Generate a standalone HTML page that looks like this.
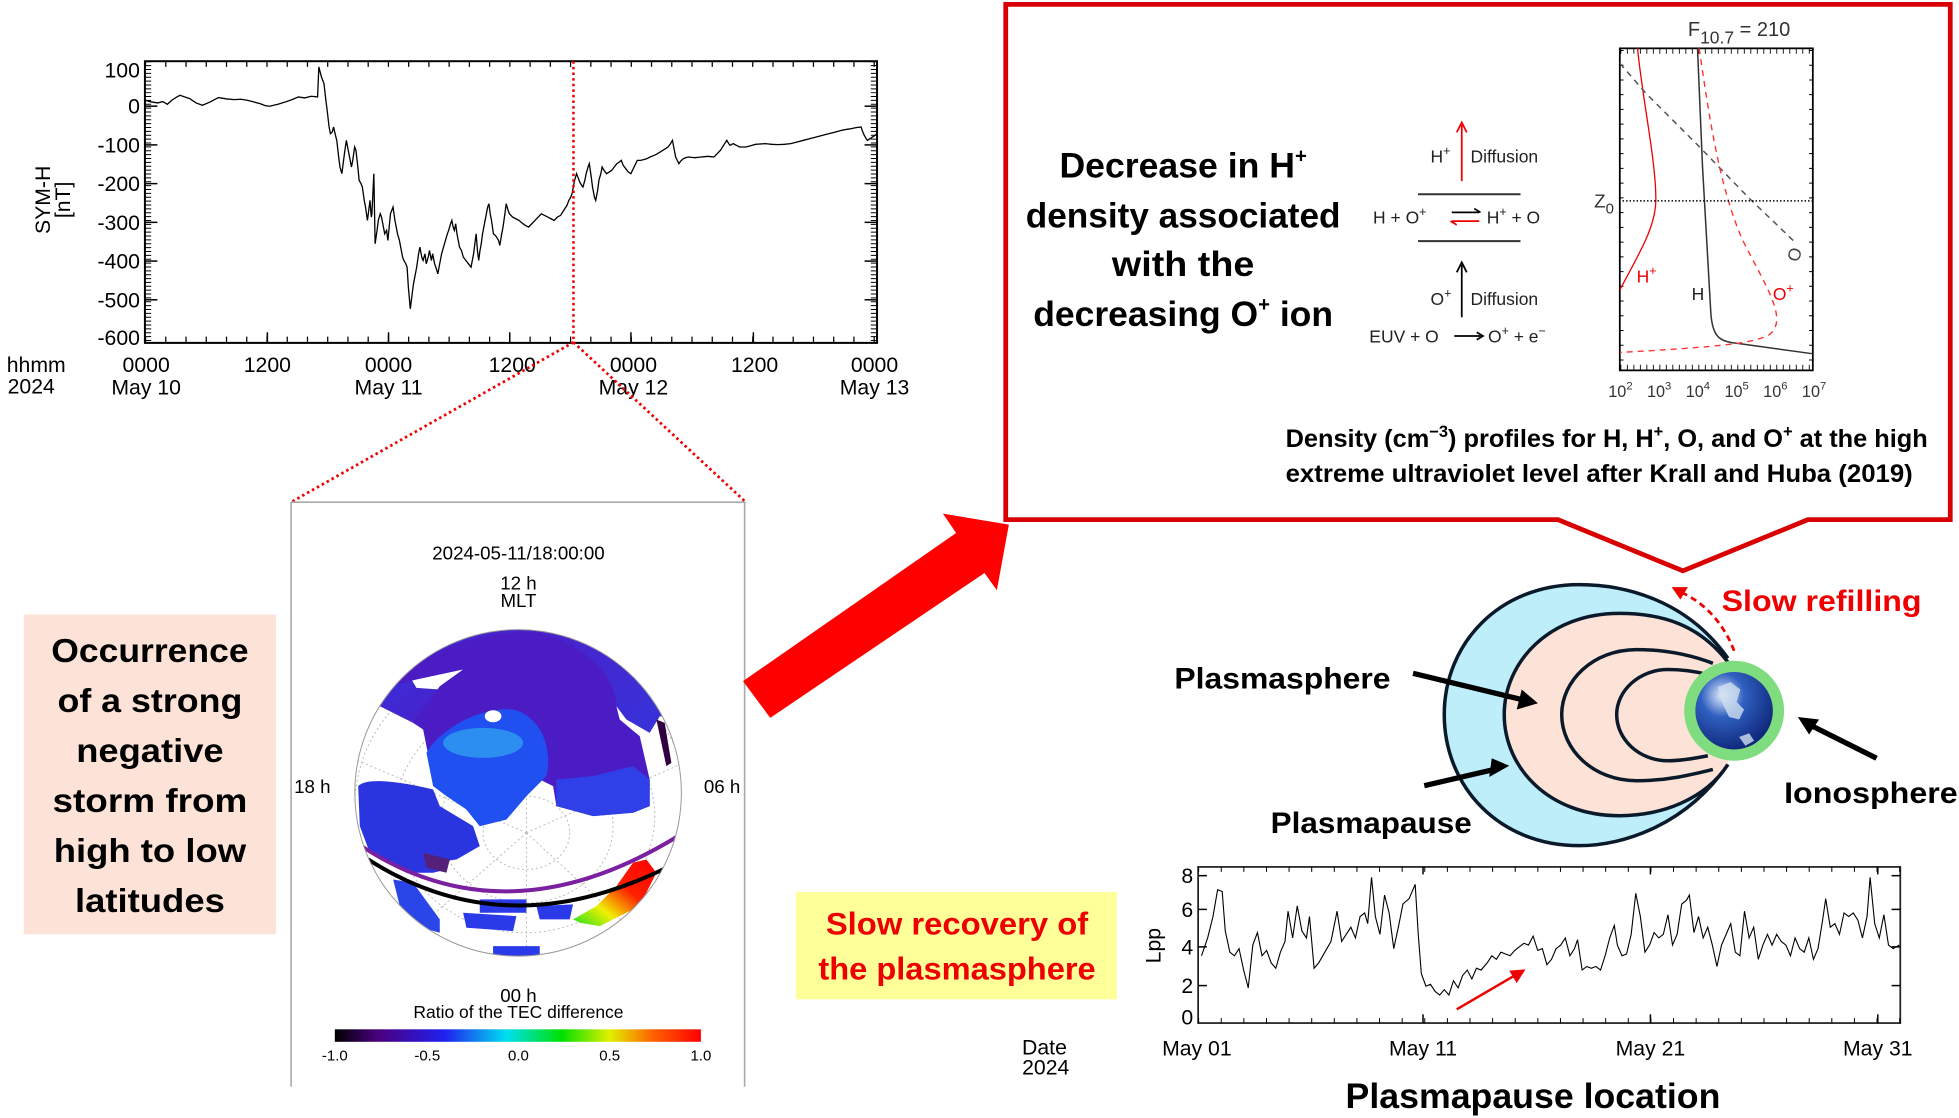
<!DOCTYPE html>
<html><head><meta charset="utf-8"><style>html,body{margin:0;padding:0;background:#fff}svg{display:block}</style></head>
<body>
<svg width="1959" height="1118" viewBox="0 0 1568 895" preserveAspectRatio="none" xmlns="http://www.w3.org/2000/svg" font-family="Liberation Sans, sans-serif">
<defs>
<clipPath id="glob"><ellipse cx="535" cy="520" rx="490" ry="490"/></clipPath>
<linearGradient id="cb" x1="0" x2="1"><stop offset="0" stop-color="#000"/><stop offset="0.12" stop-color="#4a0080"/><stop offset="0.3" stop-color="#2020f0"/><stop offset="0.47" stop-color="#00e0f0"/><stop offset="0.62" stop-color="#00e000"/><stop offset="0.75" stop-color="#e0f000"/><stop offset="0.87" stop-color="#ff6000"/><stop offset="1" stop-color="#ff0000"/></linearGradient>
<radialGradient id="earth" cx="0.35" cy="0.3" r="0.8"><stop offset="0" stop-color="#e8f0ff"/><stop offset="0.35" stop-color="#3060c0"/><stop offset="1" stop-color="#0a1e70"/></radialGradient>
<linearGradient id="hot" x1="0" y1="1" x2="1" y2="0"><stop offset="0" stop-color="#20e020"/><stop offset="0.3" stop-color="#f0f000"/><stop offset="0.6" stop-color="#ff2000"/><stop offset="1" stop-color="#ff0000"/></linearGradient>
<linearGradient id="capg" x1="0" y1="0" x2="1" y2="0.3"><stop offset="0" stop-color="#2a3ae8"/><stop offset="0.5" stop-color="#4a20c8"/><stop offset="1" stop-color="#3a30d8"/></linearGradient>
</defs>

<!-- ===== SYM-H plot ===== -->
<rect x="116" y="49" width="586" height="225.5" fill="none" stroke="#000" stroke-width="1.6"/>
<g stroke="#000" stroke-width="1">
<line x1="116" y1="272" x2="702" y2="272" stroke-width="5" stroke-dasharray="1 15.2"/>
<line x1="116" y1="51" x2="702" y2="51" stroke-width="5" stroke-dasharray="1 15.2"/>
<line x1="118.5" y1="49" x2="118.5" y2="274" stroke-width="5" stroke-dasharray="0.8 2.3"/>
<line x1="699.5" y1="49" x2="699.5" y2="274" stroke-width="5" stroke-dasharray="0.8 2.3"/>
</g>
<g stroke="#000" stroke-width="1.2">
<line x1="214" y1="274" x2="214" y2="266"/><line x1="311" y1="274" x2="311" y2="266"/><line x1="408" y1="274" x2="408" y2="266"/><line x1="505" y1="274" x2="505" y2="266"/><line x1="603" y1="274" x2="603" y2="266"/>
<line x1="116" y1="85" x2="126" y2="85"/><line x1="116" y1="116" x2="126" y2="116"/><line x1="116" y1="147" x2="126" y2="147"/><line x1="116" y1="178" x2="126" y2="178"/><line x1="116" y1="209" x2="126" y2="209"/><line x1="116" y1="240" x2="126" y2="240"/>
<line x1="692" y1="85" x2="702" y2="85"/><line x1="692" y1="116" x2="702" y2="116"/><line x1="692" y1="147" x2="702" y2="147"/><line x1="692" y1="178" x2="702" y2="178"/><line x1="692" y1="209" x2="702" y2="209"/><line x1="692" y1="240" x2="702" y2="240"/>
</g>
<polyline transform="translate(116,49) scale(0.5118,0.2672) translate(-230,-183)" vector-effect="non-scaling-stroke" fill="none" stroke="#000" stroke-width="1.3" points="230,300 240,305 250,308 258,304 265,312 272,300 280,290 285,285 292,290 300,295 310,308 320,315 332,305 345,292 358,296 370,298 380,297 390,300 400,305 410,310 418,316 425,318 438,312 450,305 460,298 470,290 480,293 490,288 500,290 502,200 506,230 510,250 513,300 515,330 518,380 520,400 523,395 525,380 528,405 530,420 533,470 535,500 538,520 540,490 542,460 545,420 548,450 550,470 553,500 555,480 558,440 560,450 563,500 565,540 568,550 570,560 573,600 575,620 578,660 580,630 582,600 584,650 585,640 588,520 590,730 593,690 595,660 598,640 600,650 603,680 605,700 608,690 610,720 612,680 614,640 618,620 621,660 625,700 628,720 630,740 633,770 635,780 638,790 640,800 642,860 645,925 648,880 650,850 653,820 655,800 658,760 660,740 663,770 665,780 668,760 670,790 673,770 675,750 678,780 680,760 683,790 685,800 688,820 691,790 694,760 697,740 700,720 703,700 705,690 708,670 710,660 712,680 714,690 716,670 718,700 720,720 722,740 725,750 728,770 732,780 736,790 740,800 742,780 744,760 746,730 748,700 750,750 752,780 754,750 756,730 758,700 760,680 762,660 764,640 766,620 768,610 770,640 772,660 775,700 778,705 780,710 783,720 785,735 788,700 790,680 793,640 795,610 798,630 800,640 805,650 810,655 815,660 820,668 825,675 830,680 835,670 840,660 845,650 850,640 855,645 860,650 865,655 870,660 875,650 880,645 885,630 890,615 893,600 896,590 898,580 900,560 902,540 905,520 908,535 910,545 913,555 915,560 918,540 920,520 923,500 925,490 928,530 930,560 933,590 935,600 938,570 940,540 943,520 945,500 948,510 952,520 956,515 960,510 964,500 968,490 972,485 975,480 978,495 982,505 986,515 990,520 995,500 1000,480 1005,480 1010,478 1015,475 1020,470 1025,466 1030,462 1035,456 1040,450 1044,445 1048,440 1052,430 1055,420 1058,450 1060,470 1063,482 1065,490 1068,482 1072,475 1076,472 1080,470 1085,471 1090,472 1095,471 1100,470 1105,469 1110,468 1115,469 1120,470 1125,460 1130,450 1135,435 1140,420 1143,430 1145,435 1148,432 1150,430 1155,435 1160,440 1165,440 1170,440 1178,436 1185,432 1192,431 1200,430 1210,432 1220,433 1230,432 1240,430 1250,425 1260,420 1270,415 1280,410 1290,405 1300,400 1310,395 1320,390 1328,387 1335,385 1342,382 1350,380 1352,392 1355,405 1358,415 1360,420 1364,415 1368,410 1372,405 1375,400"/>
<line x1="459" y1="49" x2="459" y2="274" stroke="#e00" stroke-width="2" stroke-dasharray="2 2.5"/>
<g font-size="17" text-anchor="end" fill="#000">
<text x="112" y="62">100</text><text x="112" y="91">0</text><text x="112" y="122">-100</text><text x="112" y="153">-200</text><text x="112" y="184">-300</text><text x="112" y="215">-400</text><text x="112" y="246">-500</text><text x="112" y="276">-600</text>
</g>
<text transform="translate(40,160) rotate(-90)" font-size="17" text-anchor="middle">SYM-H</text>
<text transform="translate(56,160) rotate(-90)" font-size="17" text-anchor="middle">[nT]</text>
<g font-size="17" text-anchor="middle">
<text x="29" y="298">hhmm</text><text x="25" y="315">2024</text>
<text x="117" y="298">0000</text><text x="214" y="298">1200</text><text x="311" y="298">0000</text><text x="410" y="298">1200</text><text x="507" y="298">0000</text><text x="604" y="298">1200</text><text x="700" y="298">0000</text>
<text x="117" y="316">May 10</text><text x="311" y="316">May 11</text><text x="507" y="316">May 12</text><text x="700" y="316">May 13</text>
</g>
<g stroke="#e00" stroke-width="2.2" stroke-dasharray="2 2.5" fill="none">
<line x1="459" y1="274" x2="233" y2="402"/><line x1="459" y1="274" x2="597" y2="402"/>
</g>

<!-- ===== TEC panel ===== -->
<g stroke="#aaa" stroke-width="1.3" fill="none"><line x1="233" y1="402" x2="597" y2="402"/><line x1="233" y1="402" x2="233" y2="870"/><line x1="596" y1="402" x2="596" y2="870"/></g>
<text x="415" y="448" font-size="15" text-anchor="middle">2024-05-11/18:00:00</text>
<text x="415" y="472" font-size="15" text-anchor="middle">12 h</text>
<text x="415" y="486" font-size="15" text-anchor="middle">MLT</text>
<text x="250" y="635" font-size="15" text-anchor="middle">18 h</text>
<text x="578" y="635" font-size="15" text-anchor="middle">06 h</text>
<text x="415" y="802" font-size="15" text-anchor="middle">00 h</text>
<text x="415" y="815" font-size="14" text-anchor="middle">Ratio of the TEC difference</text>
<rect x="268" y="824" width="293" height="10" fill="url(#cb)"/>
<g font-size="12" text-anchor="middle"><text x="268" y="849">-1.0</text><text x="342" y="849">-0.5</text><text x="415" y="849">0.0</text><text x="488" y="849">0.5</text><text x="561" y="849">1.0</text></g>
<g transform="translate(272,496) scale(0.2667)">
<g clip-path="url(#glob)">
<ellipse cx="535" cy="520" rx="490" ry="490" fill="#fff"/>
<g fill="none" stroke="#bbb" stroke-width="3" stroke-dasharray="6 8">
<ellipse cx="560" cy="640" rx="130" ry="110"/><ellipse cx="560" cy="620" rx="260" ry="230"/><ellipse cx="555" cy="590" rx="390" ry="350"/><ellipse cx="545" cy="560" rx="500" ry="460"/>
<line x1="560" y1="640" x2="560" y2="0"/><line x1="560" y1="640" x2="0" y2="400"/><line x1="560" y1="640" x2="1100" y2="400"/><line x1="560" y1="640" x2="150" y2="1000"/><line x1="560" y1="640" x2="950" y2="1000"/><line x1="560" y1="640" x2="560" y2="1050"/>
</g>
<path d="M0,0 H1100 V300 L960,290 L930,340 L860,300 L830,260 L700,230 L500,240 L300,300 L220,310 L120,260 L0,260 Z" fill="url(#capg)"/>
<path d="M215,180 L370,140 380,170 300,210 230,205 Z" fill="#fff"/>
<path d="M150,200 C250,80 450,30 600,40 C750,80 830,180 830,260 L840,300 900,350 930,480 930,560 880,580 760,590 650,560 640,500 600,480 560,530 500,600 420,620 380,570 330,530 300,500 270,430 250,330 220,310 300,200 370,150 230,180 Z" fill="#4b1cc4"/>
<path d="M260,400 C300,330 420,260 520,270 C600,290 640,380 620,470 L560,530 500,600 420,620 380,570 320,530 280,500 Z" fill="#2050f0"/>
<ellipse cx="430" cy="370" rx="120" ry="45" fill="#30a8f0" opacity="0.7"/>
<ellipse cx="460" cy="290" rx="25" ry="18" fill="#fff"/>
<path d="M650,480 L760,470 880,440 930,480 930,560 880,580 760,590 650,560 Z" fill="#3040e8"/>
<path d="M55,500 C80,470 200,490 280,510 L300,560 400,620 420,680 350,720 280,730 320,750 280,760 200,760 160,740 90,700 60,620 Z" fill="#2a35e0"/>
<path d="M250,700 L330,720 320,760 260,745 Z" fill="#55207a"/>
<path d="M160,780 L220,790 300,900 300,940 230,920 180,860 Z" fill="#2a45e8"/>
<path d="M420,840 L560,840 560,880 420,880 Z M370,880 L530,890 520,935 380,925 Z M590,860 L700,855 690,900 600,900 Z M460,980 L600,980 600,1010 460,1010 Z" fill="#2a3ae8"/>
<path d="M700,900 L770,860 830,800 880,730 920,720 950,760 900,860 820,900 780,920 720,910 Z" fill="url(#hot)"/>
<path d="M950,300 L975,310 995,430 980,440 Z" fill="#300040"/>
<path d="M65,680 Q500,966 1015,650" fill="none" stroke="#7a20a0" stroke-width="12"/>
<path d="M85,720 Q500,986 990,740" fill="none" stroke="#000" stroke-width="12"/>
</g>
<ellipse cx="535" cy="520" rx="490" ry="490" fill="none" stroke="#999" stroke-width="3"/>
</g>

<!-- pink text box -->
<rect x="19" y="492" width="202" height="256" fill="#fde3d7"/>
<g font-size="27" font-weight="bold" text-anchor="middle">
<text x="120" y="530" textLength="158" lengthAdjust="spacingAndGlyphs">Occurrence</text>
<text x="120" y="570" textLength="148" lengthAdjust="spacingAndGlyphs">of a strong</text>
<text x="120" y="610" textLength="118" lengthAdjust="spacingAndGlyphs">negative</text>
<text x="120" y="650" textLength="156" lengthAdjust="spacingAndGlyphs">storm from</text>
<text x="120" y="690" textLength="154" lengthAdjust="spacingAndGlyphs">high to low</text>
<text x="120" y="730" textLength="120" lengthAdjust="spacingAndGlyphs">latitudes</text>
</g>

<polygon points="594.7,545.3 765.3,426.7 754.7,411.2 807.5,420 797.9,472.5 788,458.7 616.5,574.7" fill="#ff0000"/>

<!-- ===== red callout box ===== -->
<path d="M805,3.5 L1561,3.5 L1561,416 L1447,416 L1347,457 L1247,416 L805,416 Z" fill="none" stroke="#d80000" stroke-width="3.8"/>
<g font-size="28" font-weight="bold" text-anchor="middle">
<text x="947" y="142" textLength="198" lengthAdjust="spacingAndGlyphs">Decrease in H<tspan font-size="16" dy="-12">+</tspan></text>
<text x="947" y="182" textLength="252" lengthAdjust="spacingAndGlyphs">density associated</text>
<text x="947" y="221" textLength="114" lengthAdjust="spacingAndGlyphs">with the</text>
<text x="947" y="261" textLength="240" lengthAdjust="spacingAndGlyphs">decreasing O<tspan font-size="16" dy="-12">+</tspan><tspan dy="12"> ion</tspan></text>
</g>
<g font-size="14" fill="#222">
<text x="1145" y="130">H<tspan font-size="10" dy="-6">+</tspan></text>
<text x="1177" y="130">Diffusion</text>
<text x="1099" y="179">H  +  O<tspan font-size="10" dy="-6">+</tspan></text>
<text x="1190" y="179">H<tspan font-size="10" dy="-6">+</tspan><tspan dy="6"> +  O</tspan></text>
<text x="1145" y="244">O<tspan font-size="10" dy="-6">+</tspan></text>
<text x="1177" y="244">Diffusion</text>
<text x="1096" y="274">EUV  +  O</text>
<text x="1191" y="274">O<tspan font-size="10" dy="-6">+</tspan><tspan dy="6">  +  e</tspan><tspan font-size="10" dy="-6">−</tspan></text>
</g>
<g stroke-width="1.4" fill="none">
<line x1="1170" y1="145" x2="1170" y2="100" stroke="#e00"/><path d="M1166,106 L1170,98 L1174,106" stroke="#e00"/>
<line x1="1170" y1="254" x2="1170" y2="212" stroke="#000"/><path d="M1166,218 L1170,210 L1174,218" stroke="#000"/>
<line x1="1135" y1="155.5" x2="1217" y2="155.5" stroke="#333" stroke-width="1.6"/>
<line x1="1135" y1="193" x2="1217" y2="193" stroke="#333" stroke-width="1.6"/>
<line x1="1162" y1="170" x2="1184" y2="170" stroke="#000"/><path d="M1180,167 L1185,170" stroke="#000"/>
<line x1="1162" y1="177" x2="1184" y2="177" stroke="#e00"/><path d="M1166,180 L1161,177" stroke="#e00"/>
<line x1="1164" y1="269" x2="1186" y2="269" stroke="#000"/><path d="M1182,266 L1187,269 L1182,272" stroke="#000"/>
</g>
<rect x="1296.5" y="38.7" width="154.5" height="257.8" fill="none" stroke="#000" stroke-width="1.4"/>
<g stroke="#000" stroke-width="3" stroke-dasharray="0.8 11">
<line x1="1298" y1="40" x2="1298" y2="296"/><line x1="1449.5" y1="40" x2="1449.5" y2="296"/>
</g>
<g stroke="#000" stroke-width="4" stroke-dasharray="0.7 4.5"><line x1="1297" y1="294" x2="1451" y2="294"/><line x1="1297" y1="41" x2="1451" y2="41"/></g>
<g transform="translate(1088,0) scale(0.2667)" fill="none">
<path vector-effect="non-scaling-stroke" stroke="#e00" stroke-width="1.3" d="M835,145 C850,300 890,480 890,600 C890,680 840,760 782,870"/>
<path vector-effect="non-scaling-stroke" stroke="#333" stroke-width="1.5" d="M1015,145 L1030,500 L1055,940 C1060,1010 1080,1025 1130,1030 L1362,1062"/>
<polyline vector-effect="non-scaling-stroke" stroke="#555" stroke-width="1.5" stroke-dasharray="6 5" points="782,190 860,280 1020,440 1170,595 1290,710 1310,730"/>
<path vector-effect="non-scaling-stroke" stroke="#f33" stroke-width="1.4" stroke-dasharray="6 5" d="M1020,145 C1050,350 1080,560 1150,720 C1220,860 1290,960 1230,1005 C1180,1030 1100,1040 782,1058"/>
<line vector-effect="non-scaling-stroke" x1="790" y1="603" x2="1362" y2="603" stroke="#000" stroke-width="1.5" stroke-dasharray="1.5 2"/>
</g>
<text x="1351" y="29" font-size="16" fill="#333">F<tspan font-size="14" dy="6">10.7</tspan><tspan dy="-6"> = 210</tspan></text>
<text x="1276" y="166" font-size="15" fill="#333">Z<tspan font-size="12" dy="5">0</tspan></text>
<text transform="translate(1441,205) rotate(-75)" font-size="14" fill="#444" text-anchor="middle">O</text>
<text x="1310" y="226" font-size="14" fill="#e00">H<tspan font-size="10" dy="-6">+</tspan></text>
<text x="1354" y="240" font-size="14" fill="#222">H</text>
<text x="1419" y="240" font-size="14" fill="#e00">O<tspan font-size="10" dy="-6">+</tspan></text>
<g font-size="13" fill="#333" text-anchor="middle">
<text x="1297" y="318">10<tspan font-size="9" dy="-6">2</tspan></text><text x="1328" y="318">10<tspan font-size="9" dy="-6">3</tspan></text><text x="1359" y="318">10<tspan font-size="9" dy="-6">4</tspan></text><text x="1390" y="318">10<tspan font-size="9" dy="-6">5</tspan></text><text x="1421" y="318">10<tspan font-size="9" dy="-6">6</tspan></text><text x="1452" y="318">10<tspan font-size="9" dy="-6">7</tspan></text>
</g>
<g font-size="20" font-weight="bold">
<text x="1029" y="358" textLength="514" lengthAdjust="spacingAndGlyphs">Density (cm<tspan font-size="13" dy="-8">−3</tspan><tspan dy="8">) profiles for H, H</tspan><tspan font-size="13" dy="-8">+</tspan><tspan dy="8">, O, and O</tspan><tspan font-size="13" dy="-8">+</tspan><tspan dy="8"> at the high</tspan></text>
<text x="1029" y="386" textLength="502" lengthAdjust="spacingAndGlyphs">extreme ultraviolet level after Krall and Huba (2019)</text>
</g>

<!-- ===== plasmasphere diagram ===== -->
<path d="M1383,527 C1350,480 1300,468 1264,468 C1200,468 1156,515 1156,572 C1156,630 1200,677 1264,677 C1300,677 1350,660 1383,612" fill="#bdeefa" stroke="#0b1a2a" stroke-width="2.8"/>
<path d="M1383,530 C1360,500 1330,491 1296,491 C1240,491 1204,530 1204,572 C1204,615 1240,653 1296,653 C1330,653 1365,640 1383,612" fill="#fde3d7" stroke="#0b1a2a" stroke-width="2.8"/>
<path d="M1371,531 C1350,523 1330,520 1310,520 C1275,520 1250,545 1250,572 C1250,600 1275,625 1310,625 C1335,625 1355,620 1371,616" fill="none" stroke="#0b1a2a" stroke-width="2.8"/>
<path d="M1367,540 C1355,537 1345,536 1335,536 C1312,536 1294,553 1294,572 C1294,592 1312,609 1335,609 C1345,609 1357,607 1367,605" fill="none" stroke="#0b1a2a" stroke-width="2.8"/>
<circle cx="1388" cy="569" r="40" fill="#7fdc7f"/>
<circle cx="1388" cy="569" r="31" fill="url(#earth)"/>
<path d="M1375,550 l10,-4 8,6 -3,10 6,6 -4,8 -8,-2 -5,-10 Z M1392,590 l8,-3 4,6 -7,4 Z" fill="#cfe0f0" opacity="0.8"/>
<path d="M1388,521 C1380,500 1365,482 1343,473" fill="none" stroke="#e00" stroke-width="2.2" stroke-dasharray="5 3.5"/>
<path d="M1338,470 L1351,470 L1345,480 Z" fill="#e00"/>
<text x="1378" y="489" font-size="24" font-weight="bold" fill="#e00" textLength="160" lengthAdjust="spacingAndGlyphs">Slow refilling</text>
<g font-size="24" font-weight="bold">
<text x="940" y="551" textLength="173" lengthAdjust="spacingAndGlyphs">Plasmasphere</text>
<text x="1017" y="667" textLength="161" lengthAdjust="spacingAndGlyphs">Plasmapause</text>
<text x="1428" y="643" textLength="139" lengthAdjust="spacingAndGlyphs">Ionosphere</text>
</g>
<g stroke="#000" stroke-width="4.2"><line x1="1131" y1="539" x2="1218" y2="560"/><line x1="1140" y1="629" x2="1196" y2="616"/><line x1="1502" y1="607" x2="1450" y2="581"/></g>
<path d="M1231,563 L1214,568 L1218,552 Z" fill="#000"/>
<path d="M1208,613 L1192,622 L1194,607 Z" fill="#000"/>
<path d="M1439,574 L1456,576 L1448,588 Z" fill="#000"/>

<!-- ===== Lpp plot ===== -->
<rect x="637" y="714" width="257" height="86" fill="#ffff99"/>
<g font-size="25" font-weight="bold" fill="#e00" text-anchor="middle">
<text x="766" y="748" textLength="210" lengthAdjust="spacingAndGlyphs">Slow recovery of</text>
<text x="766" y="784" textLength="222" lengthAdjust="spacingAndGlyphs">the plasmasphere</text>
</g>
<rect x="959" y="694" width="562" height="125" fill="none" stroke="#222" stroke-width="1.4"/>
<g stroke="#000" stroke-width="4" stroke-dasharray="0.8 17.3"><line x1="959" y1="817" x2="1521" y2="817"/><line x1="959" y1="696" x2="1521" y2="696"/></g>
<g stroke="#000" stroke-width="1.2">
<line x1="1139" y1="819" x2="1139" y2="812"/><line x1="1321" y1="819" x2="1321" y2="812"/><line x1="1503" y1="819" x2="1503" y2="812"/>
<line x1="1139" y1="694" x2="1139" y2="700"/><line x1="1321" y1="694" x2="1321" y2="700"/><line x1="1503" y1="694" x2="1503" y2="700"/>
<line x1="959" y1="701" x2="966" y2="701"/><line x1="959" y1="728" x2="966" y2="728"/><line x1="959" y1="758" x2="966" y2="758"/><line x1="959" y1="789" x2="966" y2="789"/>
<line x1="1521" y1="701" x2="1514" y2="701"/><line x1="1521" y1="728" x2="1514" y2="728"/><line x1="1521" y1="758" x2="1514" y2="758"/><line x1="1521" y1="789" x2="1514" y2="789"/>
</g>
<polyline transform="translate(608,448) scale(0.613,0.2857)" vector-effect="non-scaling-stroke" fill="none" stroke="#000" stroke-width="1.1" points="577,1110 585,1060 592,1000 598,925 604,930 608,1040 614,1100 620,1110 626,1090 632,1150 638,1200 644,1080 650,1045 656,1110 662,1095 668,1130 674,1145 680,1100 686,1070 690,985 696,1060 702,970 708,1040 714,1060 718,1000 724,1145 730,1130 738,1100 746,1070 754,985 760,1070 766,1050 772,1030 778,1060 784,1000 790,990 794,1020 799,890 804,1000 810,1050 816,940 822,990 828,1090 834,1030 840,965 848,950 856,910 860,1050 864,1160 870,1195 876,1190 882,1210 888,1220 894,1205 900,1220 906,1180 912,1200 918,1165 924,1150 930,1175 936,1145 942,1150 950,1130 956,1110 962,1120 968,1100 974,1105 980,1110 986,1095 992,1085 998,1075 1004,1080 1010,1055 1016,1095 1022,1090 1028,1135 1034,1120 1040,1090 1046,1080 1052,1060 1058,1110 1064,1090 1068,1065 1074,1150 1080,1140 1086,1145 1092,1140 1098,1150 1104,1110 1110,1060 1116,1025 1120,1080 1126,1110 1132,1105 1138,1050 1144,935 1150,1000 1156,1100 1162,1080 1168,1045 1174,1060 1180,1050 1186,995 1192,1080 1198,1050 1204,965 1210,955 1214,940 1220,1045 1226,1000 1232,1060 1238,1030 1244,1080 1250,1140 1256,1080 1262,1050 1268,1020 1274,1100 1280,1110 1286,985 1292,1060 1298,1030 1304,1120 1310,1080 1316,1050 1322,1080 1328,1050 1334,1070 1340,1080 1346,1110 1352,1060 1358,1090 1364,1100 1370,1060 1376,1120 1382,1090 1388,1010 1392,950 1398,1030 1404,1020 1410,1050 1416,990 1422,1000 1428,990 1434,1010 1440,1060 1446,1000 1450,890 1456,1020 1462,1060 1468,995 1474,1080 1480,1090 1488,1080"/>
<line x1="1166" y1="808" x2="1214" y2="780" stroke="#e00" stroke-width="2"/>
<path d="M1221,776 L1208,777 L1214,787 Z" fill="#e00"/>
<g font-size="17" text-anchor="end"><text x="955" y="707">8</text><text x="955" y="734">6</text><text x="955" y="764">4</text><text x="955" y="795">2</text><text x="955" y="820">0</text></g>
<text transform="translate(929,757) rotate(-90)" font-size="17" text-anchor="middle">Lpp</text>
<g font-size="17" text-anchor="middle">
<text x="958" y="845">May 01</text><text x="1139" y="845">May 11</text><text x="1321" y="845">May 21</text><text x="1503" y="845">May 31</text>
<text x="836" y="844">Date</text><text x="837" y="860">2024</text>
</g>
<text x="1227" y="887" font-size="28" font-weight="bold" text-anchor="middle" textLength="300" lengthAdjust="spacingAndGlyphs">Plasmapause location</text>
</svg>
</body></html>
